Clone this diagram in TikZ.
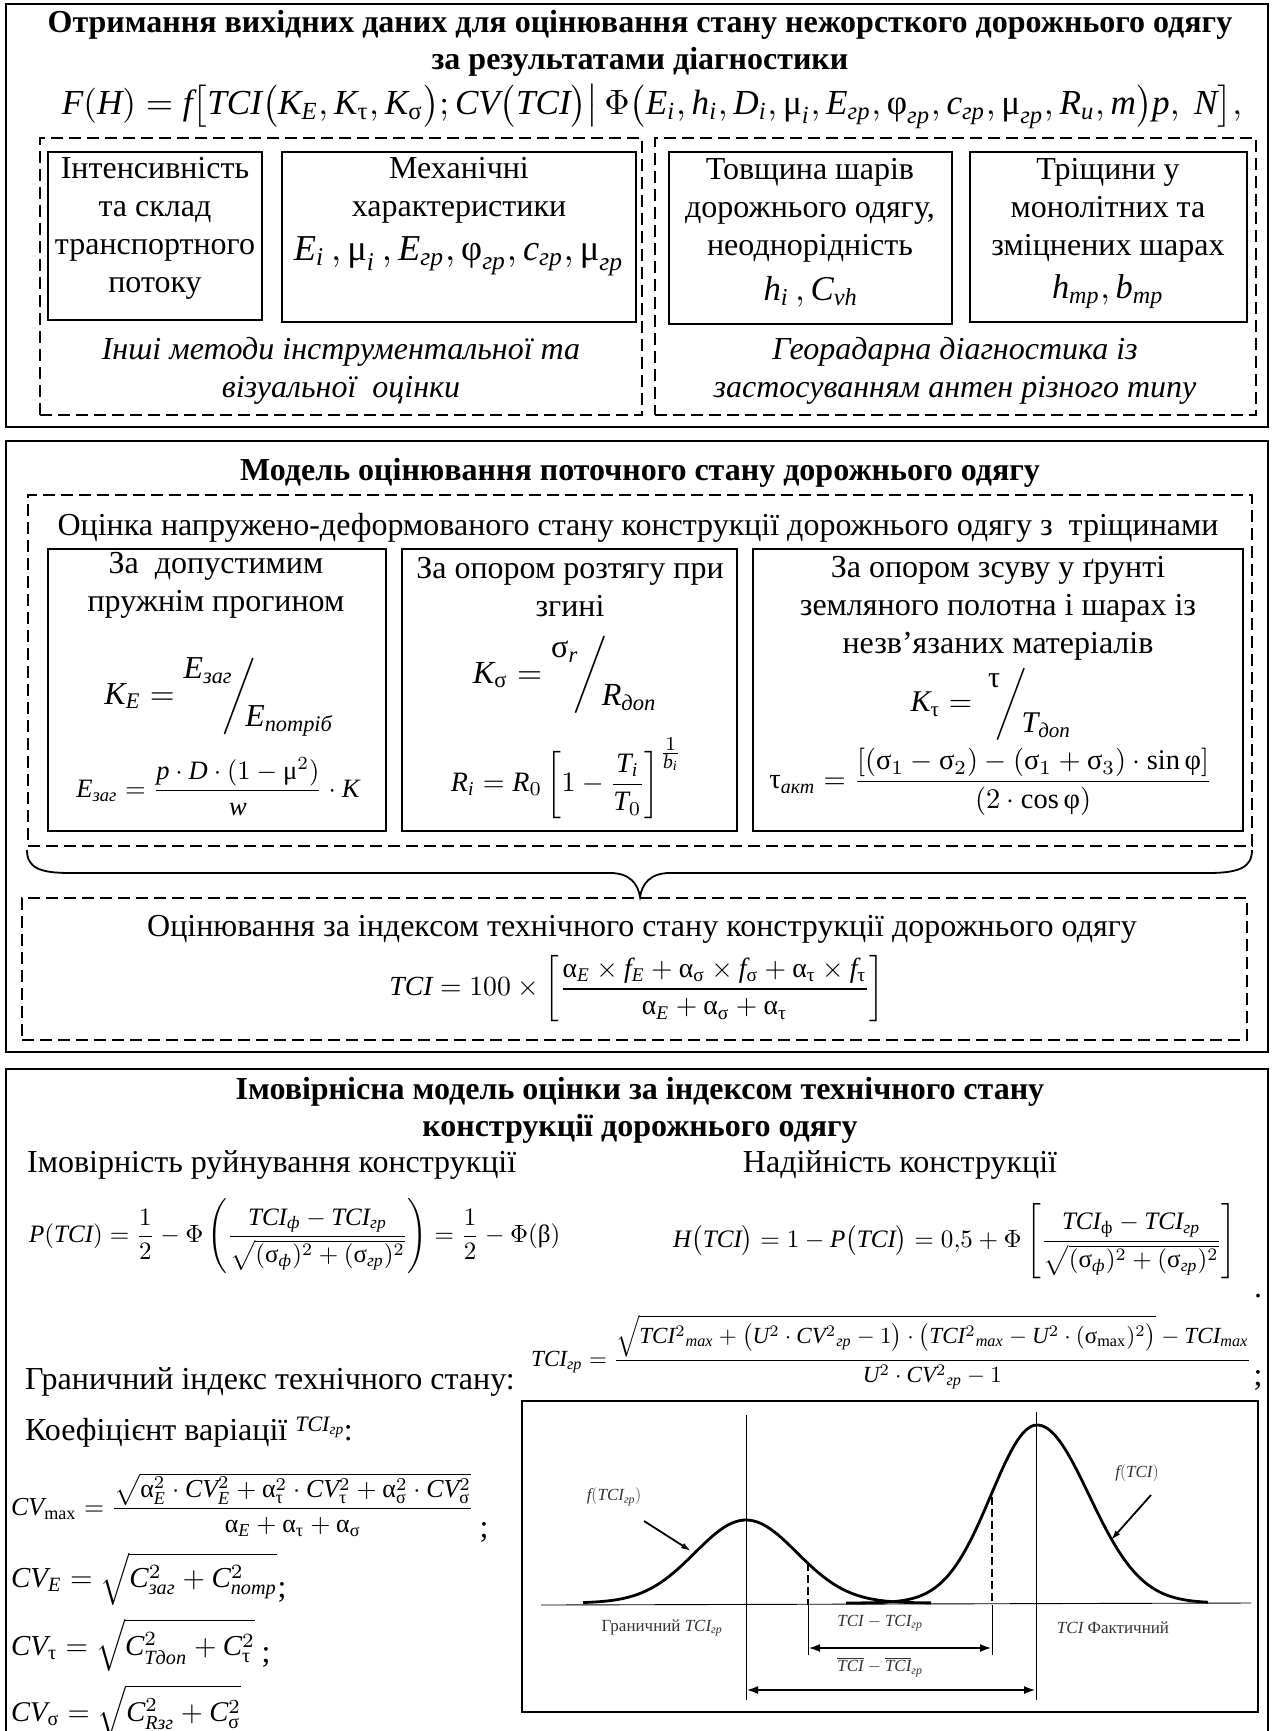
\documentclass[tikz,border=0pt]{standalone}
\usepackage{amsmath}
\usepackage{fontspec}
\setmainfont{Liberation Serif}
\usepackage{graphicx}
\usetikzlibrary{positioning,arrows.meta,fit}

\DeclareSymbolFont{tletters}{TU}{\rmdefault}{m}{it}
\DeclareSymbolFont{tdigits}{TU}{\rmdefault}{m}{n}
\newcommand\tmlet[1]{\DeclareMathSymbol{#1}{\mathalpha}{tletters}{`#1}}
\newcommand\tmdig[1]{\DeclareMathSymbol{#1}{\mathalpha}{tdigits}{`#1}}
\tmlet a\tmlet b\tmlet c\tmlet d\tmlet e\tmlet f\tmlet g\tmlet h\tmlet i\tmlet j\tmlet k\tmlet l\tmlet m
\tmlet n\tmlet o\tmlet p\tmlet q\tmlet r\tmlet s\tmlet t\tmlet u\tmlet v\tmlet w\tmlet x\tmlet y\tmlet z
\tmlet A\tmlet B\tmlet C\tmlet D\tmlet E\tmlet F\tmlet G\tmlet H\tmlet I\tmlet J\tmlet K\tmlet L\tmlet M
\tmlet N\tmlet O\tmlet P\tmlet Q\tmlet R\tmlet S\tmlet T\tmlet U\tmlet V\tmlet W\tmlet X\tmlet Y\tmlet Z
\tmdig 0\tmdig 1\tmdig 2\tmdig 3\tmdig 4\tmdig 5\tmdig 6\tmdig 7\tmdig 8\tmdig 9

\newcommand\bodyfont{\fontsize{32}{38}\selectfont}
\newcommand\headfont{\fontsize{32}{37}\selectfont\bfseries}
\newcommand\chartfont{\fontsize{17}{20}\selectfont}
\newcommand\cy[1]{\textit{#1}}
\newcommand\gsig{\textup{σ}}
\newcommand\gtau{\textup{τ}}
\newcommand\gmu{\textup{μ}}
\newcommand\gphi{\textup{φ}}
\newcommand\galp{\textup{α}}
\newcommand\gbet{\textup{β}}
\newcommand\wf[2]{\resizebox{#1pt}{!}{$\displaystyle #2$}}

\tikzset{
  secframe/.style={draw, line width=1.8pt, inner sep=0pt},
  dashframe/.style={draw, line width=1.3pt, dash pattern=on 12pt off 6pt, inner sep=0pt},
  cellbox/.style={draw, line width=1.6pt, inner sep=0pt},
  bodytext/.style={font=\bodyfont, align=center, inner sep=0pt},
  headtext/.style={font=\headfont, align=center, inner sep=0pt},
  formula/.style={inner sep=0pt},
  charttext/.style={font=\chartfont, inner sep=0pt, text=black!80},
  curve/.style={line width=2.8pt, line join=round},
  thinline/.style={line width=0.9pt},
  dropline/.style={line width=2pt, dash pattern=on 8pt off 4pt},
  dimarrow/.style={{Latex[length=12pt,width=8pt]}-{Latex[length=12pt,width=8pt]}, line width=2.4pt},
  callout/.style={-{Latex[length=10pt,width=6pt]}, line width=1.8pt},
}

\begin{document}
\begin{tikzpicture}[x=1pt, y=-1pt]
\useasboundingbox (0,0) rectangle (1274,1731);

\node[secframe, fit={(6,4) (1268,427)}] (sec1) {};
\node[headtext] (h1) at (640,43) {Отримання вихідних даних для оцінювання стану нежорсткого дорожнього одягу\\за результатами діагностики};
\node[formula] (f1) at (652,107) {\wf{1180}{F(H)=f\bigl[TCI\bigl(K_E,K_{\gtau},K_{\gsig}\bigr);CV\bigl(TCI\bigr)\big|\,\Phi\bigl(E_i,h_i,D_i,\gmu_i,E_{\cy{гр}},\gphi_{\cy{гр}},c_{\cy{гр}},\gmu_{\cy{гр}},R_u,m\bigr)p,\ N\bigr],}};
\node[dashframe, fit={(40,138) (642,415)}] (d1) {};
\node[dashframe, fit={(655,138) (1256,415)}] (d2) {};
\node[cellbox, fit={(48,152) (262,320)}] (b1) {};
\node[cellbox, fit={(282,152) (636,322)}] (b2) {};
\node[cellbox, fit={(669,152) (952,324)}] (b3) {};
\node[cellbox, fit={(970,152) (1247,322)}] (b4) {};
\node[bodytext] (b1t) at (155,228) {Інтенсивність\\та склад\\транспортного\\потоку};
\node[bodytext] (b2t) at (459,190) {Механічні\\характеристики};
\node[formula] (b2f) at (459,256) {\wf{330}{E_i\,,\gmu_i\,,E_{\cy{гр}},\gphi_{\cy{гр}},c_{\cy{гр}},\gmu_{\cy{гр}}}};
\node[bodytext] (b3t) at (810,210) {Товщина шарів\\дорожнього одягу,\\неоднорідність};
\node[formula] (b3f) at (811,292) {\wf{95}{h_i\,,C_{vh}}};
\node[bodytext] (b4t) at (1108,210) {Тріщини у\\монолітних та\\зміцнених шарах};
\node[formula] (b4f) at (1108,292) {\wf{112}{h_{\cy{тр}},b_{\cy{тр}}}};
\node[bodytext, font=\bodyfont\itshape] (d1t) at (341,371) {Інші методи інструментальної та\\візуальної~ оцінки};
\node[bodytext, font=\bodyfont\itshape] (d2t) at (955,371) {Георадарна діагностика із\\застосуванням антен різного типу};

\node[secframe, fit={(6,441) (1268,1052)}] (sec2) {};
\node[headtext] (h2) at (640,473) {Модель оцінювання поточного стану дорожнього одягу};
\node[dashframe, fit={(28,495) (1252,846)}] (d3) {};
\node[bodytext] (d3t) at (638,528) {Оцінка напружено-деформованого стану конструкції дорожнього одягу з~ тріщинами};
\node[cellbox, fit={(48,549) (386,831)}] (c1) {};
\node[cellbox, fit={(402,549) (737,831)}] (c2) {};
\node[cellbox, fit={(753,549) (1243,831)}] (c3) {};
\node[bodytext] (c1t) at (216,585) {За~ допустимим\\пружнім прогином};
\node[formula] (c1f) at (219,697) {\wf{229}{K_E=\raisebox{8pt}{$E_{\cy{заг}}$}\!\!\bigg/\!\!\raisebox{-7pt}{$E_{\cy{потріб}}$}}};
\node[formula] (c1g) at (218,787) {\wf{283}{E_{\cy{заг}}=\frac{p\cdot D\cdot(1-\gmu^2)}{w}\cdot K}};
\node[bodytext] (c2t) at (570,587) {За опором розтягу при\\згині};
\node[formula] (c2f) at (565,675) {\wf{184}{K_{\gsig}=\raisebox{8pt}{$\gsig_r$}\!\bigg/\!\raisebox{-7pt}{$R_{\cy{доп}}$}}};
\node[formula] (c2g) at (567,778) {\wf{232}{R_i=R_0\left[1-\frac{T_i}{T_0}\right]^{\frac{\scriptstyle 1}{\scriptstyle b_i}}}};
\node[bodytext] (c3t) at (998,608) {За опором зсуву у ґрунті\\земляного полотна і шарах із\\незв’язаних матеріалів};
\node[formula] (c3f) at (991,704) {\wf{161}{K_{\gtau}=\ \raisebox{8pt}{$\gtau$}\!\bigg/\!\raisebox{-7pt}{$T_{\cy{доп}}$}}};
\node[formula] (c3g) at (991,782) {\wf{443}{\gtau_{\cy{акт}}=\frac{[(\gsig_1-\gsig_2)-(\gsig_1+\gsig_3)\cdot\sin\gphi]}{(2\cdot\cos\gphi)}}};
\draw[line width=1.8pt] (27,850) .. controls (27,868) and (40,873) .. (70,873) -- (610,873) .. controls (630,873) and (638,884) .. (640,897) .. controls (642,884) and (650,873) .. (670,873) -- (1208,873) .. controls (1238,873) and (1252,868) .. (1252,850);
\node[dashframe, fit={(22,898) (1247,1040)}] (d4) {};
\node[bodytext] (d4t) at (642,929) {Оцінювання за індексом технічного стану конструкції дорожнього одягу};
\node[formula] (d4f) at (637,989) {\wf{495}{TCI=100\times\left[\frac{\galp_E\times f_E+\galp_{\gsig}\times f_{\gsig}+\galp_{\gtau}\times f_{\gtau}}{\galp_E+\galp_{\gsig}+\galp_{\gtau}}\right]}};

\draw[line width=1.8pt] (6,1731) -- (6,1069) -- (1268,1069) -- (1268,1731);
\node[headtext] (h3) at (640,1110) {Імовірнісна модель оцінки за індексом технічного стану\\конструкції дорожнього одягу};
\node[bodytext, anchor=west] (p1t) at (27,1165) {Імовірність руйнування конструкції};
\node[bodytext] (p2t) at (900,1165) {Надійність конструкції};
\node[formula, anchor=west] (p1f) at (29,1236) {\wf{531}{P(TCI)=\frac{1}{2}-\Phi\left(\frac{TCI_{\cy{ф}}-TCI_{\cy{гр}}}{\sqrt{(\gsig_{\cy{ф}})^2+(\gsig_{\cy{гр}})^2}}\right)=\frac{1}{2}-\Phi(\gbet)}};
\node[formula, anchor=west] (p2f) at (673,1241) {\wf{563}{H\bigl(TCI\bigr)=1-P\bigl(TCI\bigr)=0{,}5+\Phi\left[\frac{TCI_{\textup{ф}}-TCI_{\cy{гр}}}{\sqrt{(\gsig_{\cy{ф}})^2+(\gsig_{\cy{гр}})^2}}\right]}};
\node[bodytext] (p2d) at (1258,1296) {.};
\node[formula, anchor=west] (g1f) at (531,1352) {\wf{720}{TCI_{\cy{гр}}=\frac{\sqrt{{TCI^2}_{\mathit{max}}+\bigl(U^2\cdot {CV^2}_{\cy{гр}}-1\bigr)\cdot\bigl({TCI^2}_{\mathit{max}}-U^2\cdot(\gsig_{\max})^2\bigr)}-TCI_{\mathit{max}}}{U^2\cdot {CV^2}_{\cy{гр}}-1}}};
\node[bodytext] (g1s) at (1258,1380) {;};
\node[bodytext, anchor=west] (g1t) at (25,1382) {Граничний індекс технічного стану:};
\node[bodytext, anchor=west] (k1t) at (25,1432) {Коефіцієнт варіації \raisebox{9pt}{\fontsize{22}{22}\selectfont$TCI_{\cy{гр}}$}:};
\node[formula, anchor=west] (k1f) at (11,1505) {\wf{463}{CV_{\max}=\frac{\sqrt{\galp_E^2\cdot CV_E^2+\galp_{\gtau}^2\cdot CV_{\gtau}^2+\galp_{\gsig}^2\cdot CV_{\gsig}^2}}{\galp_E+\galp_{\gtau}+\galp_{\gsig}}}};
\node[bodytext] (k1s) at (484,1532) {;};
\node[formula, anchor=west] (k2f) at (11,1579) {\wf{266}{CV_E=\sqrt{C^2_{\cy{заг}}+C^2_{\cy{потр}}}}};
\node[bodytext] (k2s) at (282,1592) {;};
\node[formula, anchor=west] (k3f) at (11,1645) {\wf{244}{CV_{\gtau}=\sqrt{C^2_{\cy{Тдоп}}+C^2_{\gtau}}}};
\node[bodytext] (k3s) at (266,1657) {;};
\node[formula, anchor=west] (k4f) at (11,1711) {\wf{230}{CV_{\gsig}=\sqrt{C^2_{R\cy{зг}}+C^2_{\gsig}}}};

\node[cellbox, fit={(522,1401) (1258,1712)}] (chart) {};
\draw[thinline] (541,1605) -- (1251,1603);
\draw[thinline] (746,1415) -- (746,1700);
\draw[thinline] (1036,1412) -- (1036,1700);
\draw[curve] plot[domain=583:931, samples=90] (\x,{1603-83*exp(-0.5*((\x-746)/51)^2)});
\draw[curve] plot[domain=846:1037, samples=70] (\x,{1603-178*exp(-0.5*((\x-1037)/46)^2)});
\draw[curve] plot[domain=1037:1208, samples=70] (\x,{1603-178*exp(-0.5*((\x-1037)/52)^2)});
\draw[dropline] (808,1563) -- (808,1605);
\draw[thinline] (808,1605) -- (808,1655);
\draw[dropline] (992,1497) -- (992,1605);
\draw[thinline] (992,1605) -- (992,1655);
\coordinate (a1) at (808,1648);
\coordinate (a2) at (992,1648);
\coordinate (a3) at (746,1690);
\coordinate (a4) at (1036,1690);
\draw[dimarrow] (a1) -- (a2);
\draw[dimarrow] (a3) -- (a4);
\node[charttext] (l1) at (614,1497) {$f(TCI_{\cy{гр}})$};
\node[charttext] (l2) at (1137,1473) {$f(TCI)$};
\coordinate (l1e) at (691,1551);
\coordinate (l2e) at (1111,1540);
\draw[callout] (644,1521) -- (l1e);
\draw[callout] (1151,1495) -- (l2e);
\node[charttext] (l3) at (662,1628) {Граничний $TCI_{\cy{гр}}$};
\node[charttext] (l4) at (880,1623) {$TCI-TCI_{\cy{гр}}$};
\node[charttext] (l5) at (880,1667) {$\overline{TCI}-\overline{TCI}_{\cy{гр}}$};
\node[charttext] (l6) at (1113,1628) {$TCI$ Фактичний};
\end{tikzpicture}
\end{document}
